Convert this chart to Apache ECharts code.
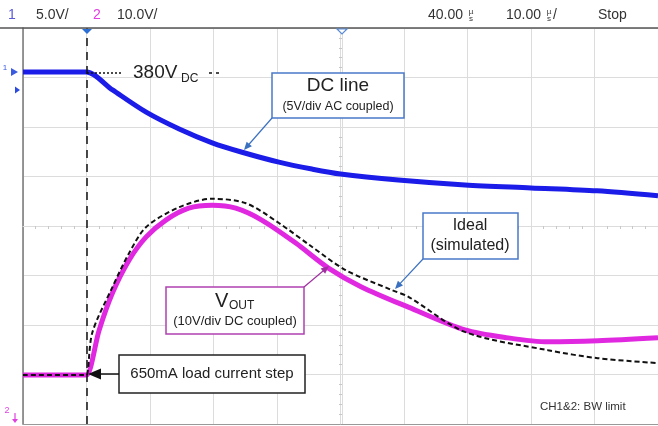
<!DOCTYPE html>
<html>
<head>
<meta charset="utf-8">
<script src="https://cdn.jsdelivr.net/npm/echarts@6/dist/echarts.min.js"></script>
<style>
html,body{margin:0;padding:0;background:#fff;}
#chart{width:658px;height:426px;}
</style>
</head>
<body>
<div id="chart"></div>
<script>
// Time axis in microseconds after the load step (10 us/div, 40 us delay), vertical in divisions
const timeTicks = [-10, 0, 10, 20, 30, 40, 50, 60, 70, 80, 90];
const divTicks = [-4, -3, -2, -1, 0, 1, 2, 3, 4];

// CH1: DC line (5 V/div AC coupled)
const dcLineT = [-10, -0.5, 0, 4.1, 9.4, 14.6, 19.8, 24.5, 30.3, 35.5, 40, 49.1, 59.6, 70, 80.4, 90];
const dcLineV = [3.11, 3.11, 3.11, 2.75, 2.30, 1.96, 1.68, 1.49, 1.29, 1.15, 1.05, 0.93, 0.83, 0.77, 0.71, 0.61];

// CH2: VOUT (10 V/div DC coupled)
const voutT = [-10, -0.5, 0, 2.0, 4.1, 6.7, 9.4, 12.5, 16.1, 19.8, 23.5, 27.6, 32.9, 38.1, 43.3, 50.7, 59.6, 66.4, 72.7, 80.5, 90];
const voutV = [-3.01, -3.01, -3.01, -2.10, -1.35, -0.69, -0.22, 0.12, 0.36, 0.42, 0.36, 0.12, -0.34, -0.85, -1.23, -1.64, -2.10, -2.26, -2.34, -2.32, -2.26];

// Ideal (simulated) VOUT
const idealT = [-10, -0.5, 0, 0.9, 4.1, 6.7, 9.4, 14.6, 19.8, 25.1, 30.3, 35.5, 40.8, 48, 50.7, 59.6, 72.7, 80.5, 90];
const idealV = [-3.01, -3.01, -3.01, -2.16, -1.23, -0.55, -0.02, 0.38, 0.55, 0.46, 0.06, -0.42, -0.89, -1.29, -1.43, -2.14, -2.51, -2.67, -2.77];

const zip = (a, b) => a.map((v, i) => [v, b[i]]);

const FONT = 'Arial, "Liberation Sans", sans-serif';
const NARROW = '"Liberation Sans Narrow", "Arial Narrow", "Liberation Sans", Arial, sans-serif';

function arrow(x1, y1, x2, y2, color, w, hl, hw) {
  const dx = x2 - x1, dy = y2 - y1, L = Math.hypot(dx, dy);
  const ux = dx / L, uy = dy / L;
  const bx = x2 - ux * hl, by = y2 - uy * hl;
  const px = -uy * hw, py = ux * hw;
  return [
    {type: 'line', z: 100, shape: {x1: x1, y1: y1, x2: bx + ux, y2: by + uy}, style: {stroke: color, lineWidth: w}},
    {type: 'polygon', z: 100, shape: {points: [[x2, y2], [bx + px, by + py], [bx - px, by - py]]}, style: {fill: color}}
  ];
}
function txt(x, y, text, size, color, align, font) {
  return {type: 'text', z: 101, x: x, y: y,
    style: {text: text, fill: color || '#222', font: size + 'px ' + (font || FONT), align: align || 'center', verticalAlign: 'middle'}};
}
function box(x, y, w, h, stroke, lw) {
  return {type: 'rect', z: 99, shape: {x: x, y: y, width: w, height: h}, style: {fill: '#fff', stroke: stroke, lineWidth: lw || 1.5}};
}

const chart = echarts.init(document.getElementById('chart'), null, {renderer: 'canvas'});

const gridColor = '#dcdcdc';
const graphics = [].concat(
  // top header
  [{type: 'line', z: 90, shape: {x1: 0, y1: 28, x2: 658, y2: 28}, style: {stroke: '#555', lineWidth: 1.5}}],
  [txt(12, 15, '1', 14, '#5a5ad8', 'center', NARROW),
   txt(36, 15, '5.0V/', 14, '#333', 'left', NARROW),
   txt(97, 15, '2', 14, '#e040e0', 'center', NARROW),
   txt(117, 15, '10.0V/', 14, '#333', 'left', NARROW),
   txt(428, 15, '40.00', 14, '#333', 'left', NARROW),
   txt(471, 11.5, 'µ', 8, '#333', 'center', NARROW),
   txt(471, 18.5, 's', 8, '#333', 'center', NARROW),
   txt(506, 15, '10.00', 14, '#333', 'left', NARROW),
   txt(549, 11.5, 'µ', 8, '#333', 'center', NARROW),
   txt(549, 18.5, 's', 8, '#333', 'center', NARROW),
   txt(553, 15, '/', 14, '#333', 'left', NARROW),
   txt(598, 15, 'Stop', 14, '#333', 'left', NARROW)],
  // top markers
  [{type: 'polygon', z: 95, shape: {points: [[82, 29], [92, 29], [87, 34]]}, style: {fill: '#2a6fd6'}},
   {type: 'polygon', z: 95, shape: {points: [[337, 29], [347, 29], [342, 34]]}, style: {fill: '#fff', stroke: '#5b8bd6', lineWidth: 1.2}}],
  // left channel markers
  [txt(5, 68, '1', 8, '#3a5ae0', 'center'),
   {type: 'polygon', z: 95, shape: {points: [[11, 68], [11, 76], [18, 72]]}, style: {fill: '#3a5ae0'}},
   {type: 'polygon', z: 95, shape: {points: [[15, 86.5], [15, 93.5], [20, 90]]}, style: {fill: '#2a4ae0'}},
   txt(7, 411, '2', 9, '#e040e0', 'center'),
   {type: 'line', z: 95, shape: {x1: 15, y1: 413, x2: 15, y2: 420}, style: {stroke: '#e040e0', lineWidth: 1.2}},
   {type: 'polygon', z: 95, shape: {points: [[12, 419], [18, 419], [15, 423]]}, style: {fill: '#e040e0'}}],
  // 380 VDC
  [{type: 'line', z: 96, shape: {x1: 87, y1: 73, x2: 123, y2: 73}, style: {stroke: '#111', lineWidth: 1.5, lineDash: [2, 2]}},
   txt(133, 73, '380V', 19, '#222', 'left'),
   txt(181, 79, 'DC', 12, '#222', 'left'),
   {type: 'line', z: 96, shape: {x1: 209, y1: 73, x2: 221, y2: 73}, style: {stroke: '#111', lineWidth: 1.5, lineDash: [3, 4]}}],
  // DC line box
  [box(272, 73, 132, 45, '#4a7ac8', 1.5),
   txt(338, 86, 'DC line', 19, '#222'),
   txt(338, 107, '(5V/div AC coupled)', 12.5, '#222')],
  arrow(272, 118, 244, 150, '#3a70c0', 1.2, 8, 3.5),
  // Ideal box
  [box(423, 213, 95, 46, '#4a7ac8', 1.5),
   txt(470, 226, 'Ideal', 16, '#222'),
   txt(470, 246, '(simulated)', 16, '#222')],
  arrow(423, 259, 395, 289, '#3a70c0', 1.2, 8, 3.5),
  // VOUT box
  [box(166, 287, 138, 47, '#b040b0', 1.5),
   txt(215, 301, 'V', 20, '#222', 'left'),
   txt(229, 306, 'OUT', 12, '#222', 'left'),
   txt(235, 321, '(10V/div DC coupled)', 13, '#222')],
  arrow(304, 287, 329, 266, '#a030a0', 1.2, 8, 3.5),
  // load step box
  [box(119, 355, 186, 38, '#222', 1.5),
   txt(212, 374, '650mA load current step', 15, '#222')],
  arrow(119, 374, 88, 374, '#111', 1.5, 13, 5.5),
  // BW limit note
  [txt(540, 407, 'CH1&2: BW limit', 11.5, '#333', 'left')]
);

const option = {
  animation: false,
  backgroundColor: '#fff',
  grid: {left: 23, top: 28, width: 638, height: 396},
  xAxis: [
    {type: 'value', min: timeTicks[0], max: timeTicks[timeTicks.length - 1], interval: 10,
     axisLine: {show: true, onZero: false, lineStyle: {color: '#999', width: 1}},
     axisTick: {show: false}, axisLabel: {show: false},
     splitLine: {show: true, lineStyle: {color: gridColor, width: 1}}},
    {type: 'value', position: 'bottom', offset: -198, min: -10, max: 90, interval: 10,
     axisLine: {show: true, onZero: false, lineStyle: {color: gridColor, width: 1}},
     axisTick: {show: false}, minorTick: {show: true, splitNumber: 5, length: 3, lineStyle: {color: '#c8c8c8'}},
     axisLabel: {show: false}, splitLine: {show: false}}
  ],
  yAxis: [
    {type: 'value', min: divTicks[0], max: divTicks[divTicks.length - 1], interval: 1,
     axisLine: {show: true, onZero: false, lineStyle: {color: '#777', width: 1.5}},
     axisTick: {show: false}, axisLabel: {show: false},
     splitLine: {show: true, lineStyle: {color: gridColor, width: 1}}},
    {type: 'value', position: 'left', offset: -319, min: -4, max: 4, interval: 1,
     axisLine: {show: true, onZero: false, lineStyle: {color: gridColor, width: 1}},
     axisTick: {show: false}, minorTick: {show: true, splitNumber: 5, length: 3, lineStyle: {color: '#c8c8c8'}},
     axisLabel: {show: false}, splitLine: {show: false}}
  ],
  series: [
    {name: 'DC line', type: 'line', data: zip(dcLineT, dcLineV), showSymbol: false,
     smooth: 0.3, lineStyle: {color: '#1c1ce8', width: 5}, z: 3,
     markLine: {silent: true, symbol: 'none', label: {show: false},
       lineStyle: {color: '#111', width: 1.5, type: [8, 6]}, data: [{xAxis: 0}]}},
    {name: 'VOUT', type: 'line', data: zip(voutT, voutV), showSymbol: false,
     smooth: 0.3, lineStyle: {color: '#e028e0', width: 5}, z: 3},
    {name: 'Ideal', type: 'line', data: zip(idealT, idealV), showSymbol: false,
     smooth: 0.3, lineStyle: {color: '#111', width: 2, type: [5, 3]}, z: 4}
  ],
  graphic: graphics
};
chart.setOption(option);
</script>
</body>
</html>
